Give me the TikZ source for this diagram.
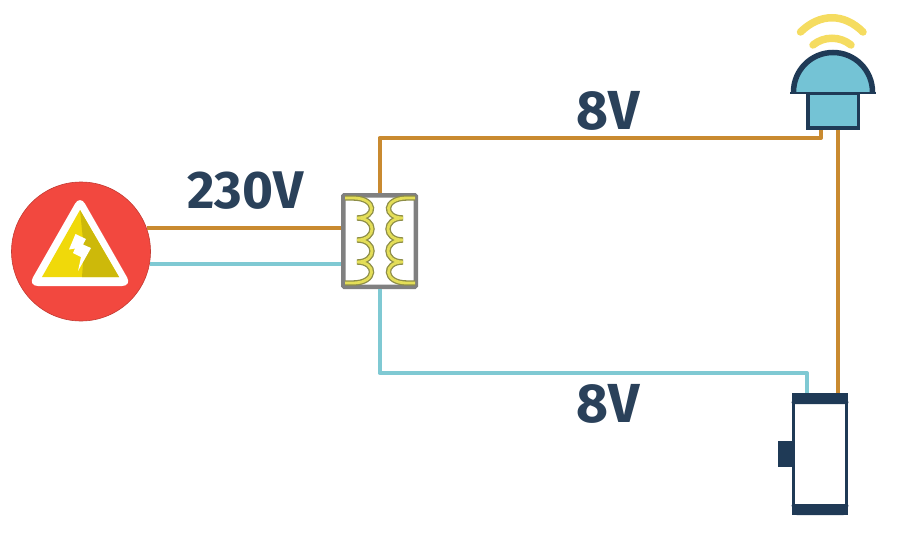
\documentclass[tikz,border=0pt]{standalone}
\usepackage{fontspec}
\setmainfont{Fira Sans}
\definecolor{navy}{HTML}{2A415A}
\definecolor{deepnavy}{HTML}{1F3A56}
\definecolor{hotwire}{HTML}{C98A30}
\definecolor{coldwire}{HTML}{7FC9D3}
\definecolor{alarm}{HTML}{F2483F}
\definecolor{signal}{HTML}{F0D90A}
\definecolor{signaldark}{HTML}{CDB90A}
\definecolor{wave}{HTML}{F5DC60}
\definecolor{domefill}{HTML}{74C3D5}
\definecolor{coilline}{HTML}{8E8E48}
\definecolor{coilfill}{HTML}{E4DE58}
\begin{document}
\begin{tikzpicture}[x=1pt,y=-1pt,
      hot/.style={draw=hotwire,line width=4pt,line join=round},
      cold/.style={draw=coldwire,line width=4pt,line join=round},
      volt/.style={font=\bfseries\fontsize{53}{53}\selectfont,text=navy,inner sep=0pt},
      bigvolt/.style={font=\bfseries\fontsize{55}{55}\selectfont,text=navy,inner sep=0pt},
      winding/.style={draw=coilline,double=coilfill,double distance=2.8pt,line width=1.3pt,line join=miter},
      wavearc/.style={draw=wave,line width=7.5pt,line cap=round}]
    \useasboundingbox (0,0) rectangle (900,551);
    \node[circle,fill=alarm,draw=alarm!80!black,line width=.6pt,minimum size=139pt,inner sep=0pt] (mains) at (81,251.5) {};
    \node[draw=black!50,line width=4.5pt,fill=white,minimum width=72.5pt,minimum height=91.5pt,inner sep=0pt,rounded corners=1pt] (xfmr) at (379.5,241) {};
    \node[draw=deepnavy,line width=3.5pt,fill=domefill,minimum width=50.5pt,minimum height=35pt,inner sep=0pt] (sensor) at (833,110.5) {};
    \node[draw=deepnavy,line width=3pt,fill=white,minimum width=53pt,minimum height=119pt,inner sep=0pt] (motor) at (820,454) {};
    \coordinate (hotbend) at (821,138);
    \coordinate (feed) at (838,138);
    \coordinate (coldbend) at (807,373);
    \draw[hot] (mains.20) -- (mains.20 -| xfmr.west);
    \draw[cold] (mains.-10) -- (mains.-10 -| xfmr.west);
    \draw[hot] (xfmr.north) |- (hotbend) -- (hotbend |- sensor.south);
    \draw[hot] (feed |- sensor.south) -- (feed |- motor.north);
    \draw[cold] (xfmr.south) |- (coldbend) -- (coldbend |- motor.north);
    \fill[white,rounded corners=10pt] (80,195) -- (132,286) -- (28,286) -- cycle;
    \fill[signal] (80,210) -- (119,277) -- (42,277) -- cycle;
    \fill[signaldark] (80,210) -- (119,277) -- (82,277) -- (84,250) -- cycle;
    \fill[white] (75.5,234) -- (86,239) -- (83,244.5) -- (91,248) -- (78,271) -- (81,257) -- (73,253) -- (75,248.5) -- (69,249.5) -- cycle;
    \foreach \x/\s in {345/1,415/-1} {
      \begin{scope}[shift={(\x,0)},xscale=\s]
        \draw[winding] (0,198) -- (8,198)
          .. controls (32,198) and (32,218) .. (12,218)
          .. controls (32,218) and (32,240) .. (12,240)
          .. controls (32,240) and (32,262) .. (12,262)
          .. controls (32,262) and (32,283) .. (8,283) -- (0,283);
      \end{scope}
    }
    \draw[wavearc] (800.5,32) .. controls (820,13) and (844,13) .. (863,32);
    \draw[wavearc] (813,45) .. controls (824,36) and (840,36) .. (851,45);
    \draw[deepnavy,fill=domefill,line width=5.5pt] (793.5,92) arc[start angle=180,end angle=360,radius=39.5];
    \draw[deepnavy,line width=2.6pt] (790,93) -- (876,93);
    \fill[deepnavy,rounded corners=1.5pt] (795,393) -- (845,393) -- (849,404) -- (791,404) -- cycle;
    \fill[deepnavy,rounded corners=1.5pt] (791,504) -- (849,504) -- (845,515) -- (795,515) -- cycle;
    \fill[deepnavy] (778,441) rectangle (792,467);
    \node[volt] (mainsvolt) at (245.5,191) {230V};
    \node[bigvolt] (hotvolt) at (608,111) {8V};
    \node[bigvolt] (coldvolt) at (608,404) {8V};
  \end{tikzpicture}
\end{document}
